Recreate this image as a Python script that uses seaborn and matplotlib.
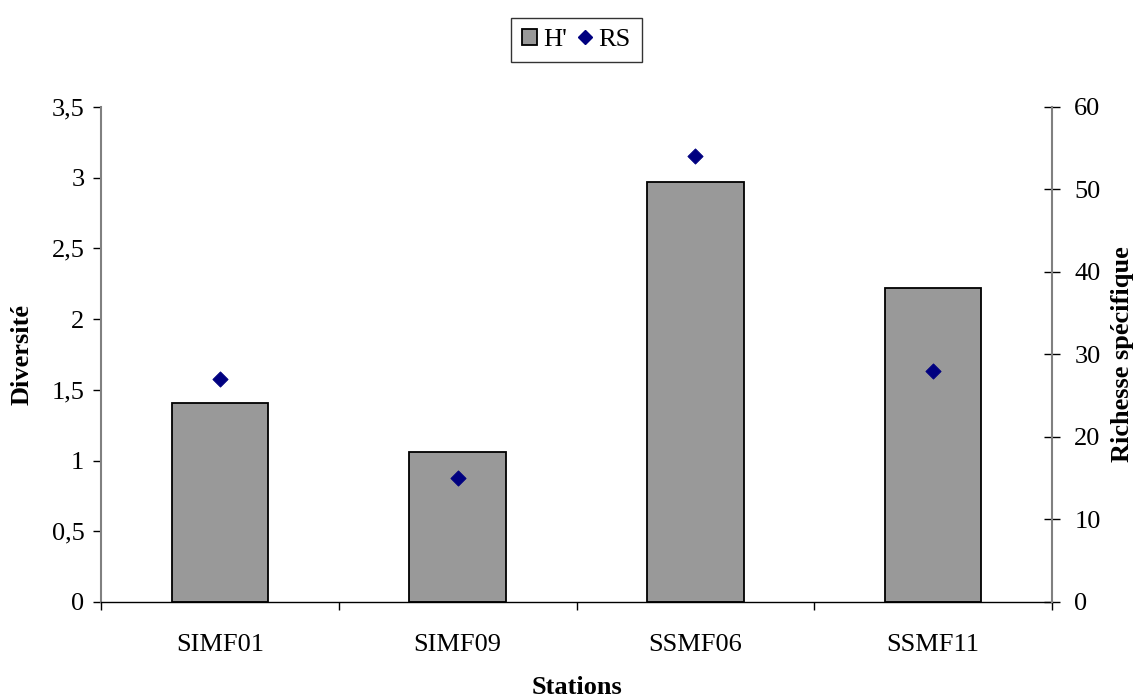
import matplotlib
matplotlib.use("Agg")
import matplotlib.pyplot as plt
from matplotlib.ticker import FuncFormatter, FixedLocator, MultipleLocator
from matplotlib.lines import Line2D
from matplotlib.patches import Patch
import seaborn as sns
import pandas as pd

stations = ["SIMF01", "SIMF09", "SSMF06", "SSMF11"]
shannon_h = [1.41, 1.06, 2.97, 2.22]
richesse = [27, 15, 54, 28]

sns.set_theme(style="white")
plt.rcParams["font.family"] = ["Liberation Serif", "DejaVu Serif"]
plt.rcParams["text.color"] = "black"
plt.rcParams["axes.labelcolor"] = "black"
plt.rcParams["xtick.color"] = "black"
plt.rcParams["ytick.color"] = "black"

df = pd.DataFrame({"Station": stations, "H": shannon_h, "RS": richesse})

fig = plt.figure(figsize=(11.36, 6.97), dpi=100)
ax = fig.add_axes([0.0889, 0.1363, 0.8372, 0.7102])

sns.barplot(data=df, x="Station", y="H", color="#999999", saturation=1,
            edgecolor="black", linewidth=1.3, width=0.405, ax=ax)
ax.set_xlim(-0.5, 3.5)
ax.set_ylim(0, 3.5)

spine_col = "#808080"
for s in ["top", "right"]:
    ax.spines[s].set_visible(False)
ax.spines["left"].set_color(spine_col)
ax.spines["left"].set_linewidth(1.5)
ax.spines["bottom"].set_color("black")
ax.spines["bottom"].set_linewidth(1.0)

ax.yaxis.set_major_locator(MultipleLocator(0.5))
ax.yaxis.set_major_formatter(FuncFormatter(
    lambda v, p: ("%g" % v).replace(".", ",")))
ax.tick_params(axis="y", which="major", direction="out", length=6, width=1,
               color="black", labelsize=19, pad=6, left=True)
ax.tick_params(axis="x", which="major", length=0, labelsize=19, pad=23)
ax.xaxis.set_minor_locator(FixedLocator([-0.5, 0.5, 1.5, 2.5, 3.5]))
ax.tick_params(axis="x", which="minor", direction="out", length=6, width=1,
               color="black", bottom=True)

ax.set_xlabel("Stations", fontsize=19, fontweight="bold")
ax.set_ylabel("Diversité", fontsize=19, fontweight="bold")

ax2 = ax.twinx()
sns.scatterplot(data=df, x="Station", y="RS", marker="D", s=60,
                color="#000080", edgecolor="#000080", ax=ax2, zorder=5)
ax2.set_ylim(0, 60)
ax2.set_xlim(-0.5, 3.5)
ax2.yaxis.set_major_locator(MultipleLocator(10))
for s in ["top", "left", "bottom"]:
    ax2.spines[s].set_visible(False)
ax2.spines["right"].set_color(spine_col)
ax2.spines["right"].set_linewidth(1.5)
ax2.tick_params(axis="y", direction="inout", length=12, width=1,
                color="black", labelsize=19, pad=10, right=True)
ax2.set_ylabel("Richesse spécifique", fontsize=19, fontweight="bold")

# Axis titles placed at fixed offsets from the plot frame
ax.xaxis.label.set_verticalalignment("center")
ax.xaxis.set_label_coords(0.5, -0.172)
ax.yaxis.label.set_verticalalignment("center")
ax.yaxis.set_label_coords(-0.083, 0.5)
ax2.yaxis.label.set_verticalalignment("center")
ax2.yaxis.set_label_coords(1.0736, 0.5)

handles = [Patch(facecolor="#999999", edgecolor="black", linewidth=1.3),
           Line2D([], [], marker="D", linestyle="none", color="#000080",
                  markersize=7)]
leg = fig.legend(handles, ["H'", "RS"], loc="center",
                 bbox_to_anchor=(576.5 / 1136, 1 - 40 / 697), ncol=2,
                 fontsize=19, frameon=True, fancybox=False,
                 handlelength=0.55, handleheight=0.55, handletextpad=0.25,
                 columnspacing=0.4, borderpad=0.4, borderaxespad=0)
leg.get_frame().set_edgecolor("black")
leg.get_frame().set_linewidth(1.0)

fig.savefig("out.png", dpi=100)
